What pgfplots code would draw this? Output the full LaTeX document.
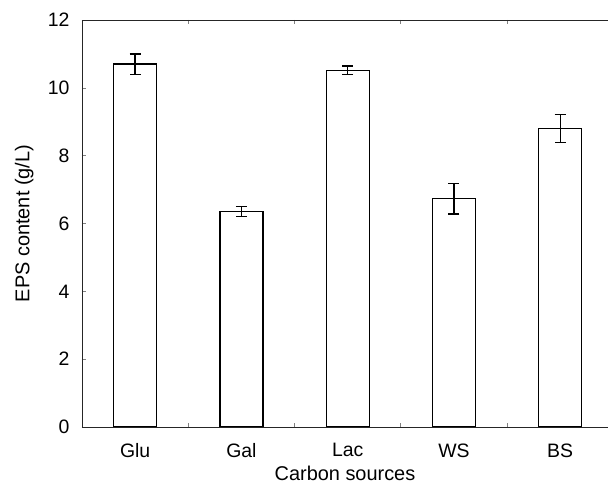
\documentclass[border=0pt]{standalone}
\usepackage{fontspec}
\setmainfont{Liberation Sans}
\usepackage{pgfplots}
\usetikzlibrary{calc}
\pgfplotsset{compat=1.18}
\begin{document}
\begin{tikzpicture}
\begin{axis}[
  name=ax,
  scale only axis,
  width=526bp, height=407bp,
  xmin=-0.5, xmax=4.45,
  ymin=0, ymax=12,
  axis x line*=box,
  axis y line*=left,
  axis line style={line width=0.7bp, black!85},
  xtick={0,1,2,3,4},
  xticklabels={Glu,Gal,Lac,WS,BS},
  major x tick style={draw=none},
  minor xtick={0.5,1.5,2.5,3.5},
  minor x tick style={line width=0.6bp},
  minor tick length=4bp,
  ytick={0,2,4,6,8,10,12},
  major tick length=4bp,
  tick align=inside,
  ytick style={line width=0.6bp},
  tick label style={font=\fontsize{19.5}{23}\selectfont},
  /pgf/number format/assume math mode=true,
  xlabel={Carbon sources},
  ylabel={EPS content (g/L)},
  xlabel style={font=\fontsize{20}{24}\selectfont, at={(axis description cs:0.5,-0.113)}, anchor=center},
  ylabel style={font=\fontsize{20}{24}\selectfont, at={(axis description cs:-0.110,0.5)}, anchor=center},
  xticklabel style={yshift=-13bp},
  yticklabel style={xshift=-9bp},
]
\addplot[ybar, bar width=43bp, fill=white, draw=black, line width=1.3bp,
  error bars/.cd, y dir=both, y explicit,
  error bar style={line width=1.3bp, black},
  error mark options={rotate=90, mark size=5.5bp, line width=1.3bp}]
coordinates {
  (0,10.70) +- (0,0.30)
  (1,6.35) +- (0,0.15)
  (2,10.52) +- (0,0.12)
  (3,6.73) +- (0,0.45)
  (4,8.80) +- (0,0.42)
};
\end{axis}
\pgfresetboundingbox
\path ($(ax.south west)+(-82bp,-59bp)$) rectangle ($(ax.north east)+(0bp,20bp)$);
\end{tikzpicture}
\end{document}
